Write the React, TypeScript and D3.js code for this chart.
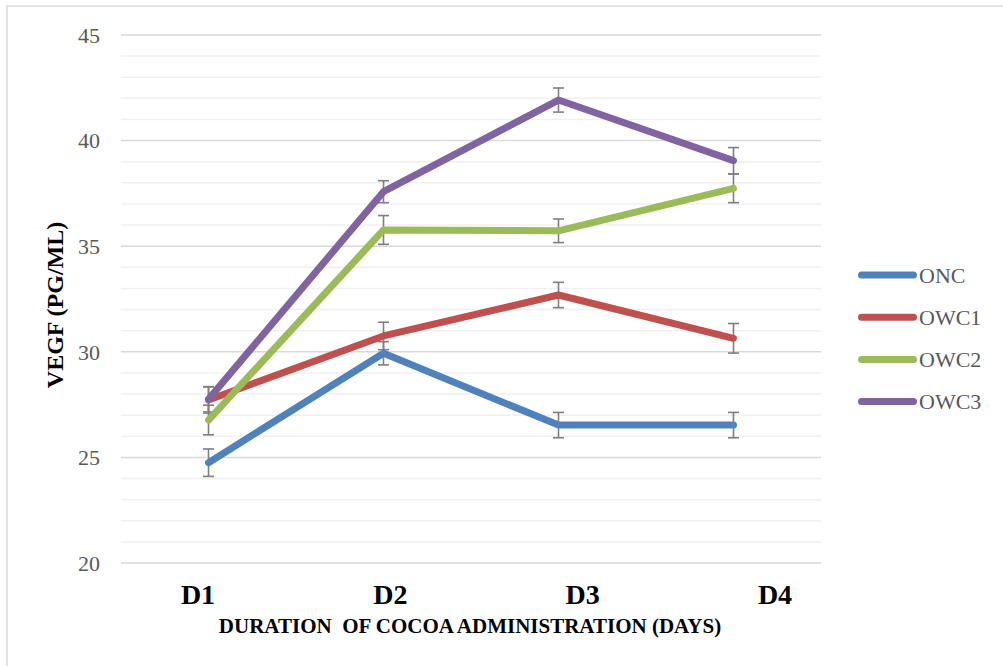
import React, { useRef, useEffect } from "react";
import * as d3 from "d3";

const days = ["D1", "D2", "D3", "D4"];
const seriesNames = ["ONC", "OWC1", "OWC2", "OWC3"];
const onc = [24.75, 29.93, 26.53, 26.53];
const owc1 = [27.72, 30.75, 32.69, 30.64];
const owc2 = [26.77, 35.77, 35.73, 37.74];
const owc3 = [27.75, 37.58, 41.92, 39.05];
const oncErr = [0.65, 0.55, 0.6, 0.6];
const owc1Err = [0.62, 0.65, 0.6, 0.7];
const owc2Err = [0.7, 0.68, 0.56, 0.68];
const owc3Err = [0.6, 0.52, 0.57, 0.62];
const yTicks = [20, 25, 30, 35, 40, 45];
const colors = ["#4f81bd", "#c0504d", "#9bbb59", "#8064a2"];

const App = () => {
  const svgRef = useRef<SVGSVGElement>(null);

  const drawChart = () => {
    const width = 1003;
    const height = 666;
    const plot = { left: 121, right: 821, top: 35, bottom: 563 };
    const serif = "'Liberation Serif', 'Times New Roman', serif";

    const svg = d3.select(svgRef.current);
    svg.selectAll("*").remove();
    svg.attr("width", width).attr("height", height);

    /* outer frame (only top and left visible) */
    svg
      .append("rect")
      .attr("x", 7)
      .attr("y", 6)
      .attr("width", width + 20)
      .attr("height", height + 20)
      .attr("fill", "white")
      .attr("stroke", "#d9d9d9")
      .attr("stroke-width", 1.5);

    const x = d3.scaleBand().domain(days).range([plot.left, plot.right]);
    const y = d3.scaleLinear().domain([20, 45]).range([plot.bottom, plot.top]);
    const xLabel = d3.scalePoint().domain(days).range([198, 775]);

    /* minor gridlines */
    svg
      .append("g")
      .selectAll("line")
      .data(d3.range(20, 46, 1).filter((v) => v % 5 !== 0))
      .enter()
      .append("line")
      .attr("x1", plot.left)
      .attr("x2", plot.right)
      .attr("y1", (d) => y(d))
      .attr("y2", (d) => y(d))
      .attr("stroke", "#f0f0f0")
      .attr("stroke-width", 1.5);

    /* major gridlines */
    svg
      .append("g")
      .selectAll("line")
      .data(yTicks)
      .enter()
      .append("line")
      .attr("x1", plot.left)
      .attr("x2", plot.right)
      .attr("y1", (d) => y(d))
      .attr("y2", (d) => y(d))
      .attr("stroke", "#d9d9d9")
      .attr("stroke-width", 1.5);

    /* y tick labels */
    svg
      .append("g")
      .selectAll("text")
      .data(yTicks)
      .enter()
      .append("text")
      .attr("x", 100)
      .attr("y", (d) => y(d))
      .attr("dy", "0.35em")
      .attr("text-anchor", "end")
      .style("font-family", serif)
      .style("font-size", "22px")
      .attr("fill", "#595959")
      .text((d) => d);

    /* x tick labels */
    svg
      .append("g")
      .selectAll("text")
      .data(days)
      .enter()
      .append("text")
      .attr("x", (d) => xLabel(d)!)
      .attr("y", 604)
      .attr("text-anchor", "middle")
      .style("font-family", serif)
      .style("font-size", "28px")
      .style("font-weight", "700")
      .attr("fill", "#000")
      .text((d) => d);

    /* axis titles */
    svg
      .append("text")
      .attr("x", 470)
      .attr("y", 633)
      .attr("text-anchor", "middle")
      .style("font-family", serif)
      .style("font-size", "21px")
      .style("font-weight", "700")
      .style("white-space", "pre")
      .text("DURATION  OF COCOA ADMINISTRATION (DAYS)");

    svg
      .append("text")
      .attr("transform", "translate(63, 305) rotate(-90)")
      .attr("text-anchor", "middle")
      .style("font-family", serif)
      .style("font-size", "24px")
      .style("font-weight", "700")
      .text("VEGF (PG/ML)");

    const values = [onc, owc1, owc2, owc3];
    const errors = [oncErr, owc1Err, owc2Err, owc3Err];
    const cx = (i: number) => x(days[i])! + x.bandwidth() / 2;

    /* error bars */
    const errG = svg.append("g").attr("stroke", "#7f7f7f").attr("stroke-width", 1.6);
    values.forEach((vals, s) => {
      vals.forEach((v, i) => {
        const e = errors[s][i];
        const px = cx(i);
        errG
          .append("line")
          .attr("x1", px)
          .attr("x2", px)
          .attr("y1", y(v + e))
          .attr("y2", y(v - e));
        [v + e, v - e].forEach((c) => {
          errG
            .append("line")
            .attr("x1", px - 5.5)
            .attr("x2", px + 5.5)
            .attr("y1", y(c))
            .attr("y2", y(c));
        });
      });
    });

    /* lines */
    const line = d3
      .line<number>()
      .x((d, i) => cx(i))
      .y((d) => y(d));

    values.forEach((vals, s) => {
      svg
        .append("path")
        .datum(vals)
        .attr("fill", "none")
        .attr("stroke", colors[s])
        .attr("stroke-width", 7)
        .attr("stroke-linejoin", "round")
        .attr("stroke-linecap", "round")
        .attr("d", line);
    });

    /* legend */
    const legend = svg
      .append("g")
      .selectAll("g")
      .data(seriesNames)
      .enter()
      .append("g")
      .attr("transform", (d, i) => `translate(0, ${275 + i * 42.2})`);

    legend
      .append("line")
      .attr("x1", 861.5)
      .attr("x2", 913.5)
      .attr("stroke", (d, i) => colors[i])
      .attr("stroke-width", 7)
      .attr("stroke-linecap", "round");

    legend
      .append("text")
      .attr("x", 919)
      .attr("dy", "0.35em")
      .style("font-family", serif)
      .style("font-size", "22px")
      .attr("fill", "#595959")
      .text((d) => d);
  };

  useEffect(() => {
    drawChart();
  }, []);

  return (
    <div style={{ position: "absolute", left: 0, top: 0 }}>
      <svg ref={svgRef} style={{ display: "block" }} />
    </div>
  );
};

export default App;
